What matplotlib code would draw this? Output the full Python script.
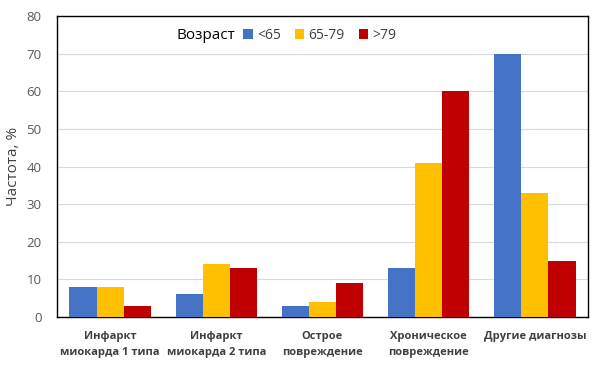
import matplotlib.pyplot as plt
import numpy as np

plt.rcParams["font.family"] = ["Open Sans", "DejaVu Sans"]

categories = ["Инфаркт\nмиокарда 1 типа", "Инфаркт\nмиокарда 2 типа",
              "Острое\nповреждение", "Хроническое\nповреждение", "Другие диагнозы"]
series_names = ["<65", "65-79", ">79"]
under_65 = [8, 6, 3, 13, 70]
age_65_79 = [8, 14, 4, 41, 33]
over_79 = [3, 13, 9, 60, 15]
colors = ["#4472C4", "#FFC000", "#C00000"]

fig = plt.figure(figsize=(6, 3.76), dpi=100)
ax = fig.add_axes([0.095, 0.157, 0.885, 0.8])

x = np.arange(len(categories))
w = 0.255
for i, (vals, name, c) in enumerate(zip([under_65, age_65_79, over_79], series_names, colors)):
    ax.bar(x + (i - 1) * w, vals, w, color=c, label=name, zorder=3)

ax.set_xlim(-0.5, len(categories) - 0.5)
ax.set_ylim(0, 80)
ax.set_yticks(range(0, 81, 10))
ax.grid(axis="y", color="#d9d9d9", linewidth=0.8, zorder=0)
ax.set_xticks(x)
ax.set_xticklabels(categories, fontsize=8, fontweight="bold", color="#404040", linespacing=1.6)
ax.tick_params(axis="x", length=0, pad=10)
ax.tick_params(axis="y", length=0, labelsize=9.5, labelcolor="#595959", pad=11)
for s in ax.spines.values():
    s.set_color("#000000")
    s.set_linewidth(1.0)
ax.set_ylabel("Частота, %", fontsize=11, color="#404040", labelpad=4)

ax.text(0.225, 0.935, "Возраст", transform=ax.transAxes, fontsize=11, va="center", ha="left")
ax.legend(loc="center left", bbox_to_anchor=(0.34, 0.935), ncol=3, frameon=False,
          fontsize=10, handlelength=0.7, handleheight=0.7, handletextpad=0.3,
          columnspacing=1.0, borderaxespad=0, labelcolor="#404040")

fig.savefig("out.png", dpi=100)
